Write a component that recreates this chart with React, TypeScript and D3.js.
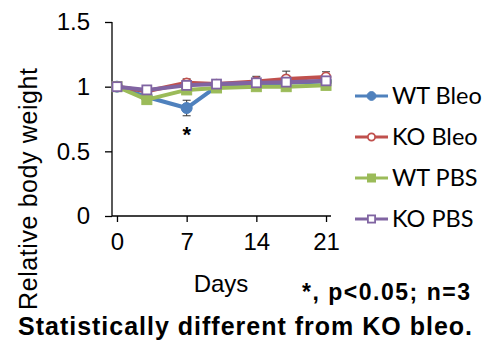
import React, { useEffect, useRef } from 'react';
import * as d3 from 'd3';

// Days measured
const days = [0, 3, 7, 10, 14, 17, 21];

// Relative body weight per group
const wtBleo = [1.0, 0.92, 0.835, 1.0, 1.02, 1.03, 1.04];
const koBleo = [1.0, 0.965, 1.03, 1.02, 1.04, 1.06, 1.075];
const wtPbs = [1.0, 0.9, 0.975, 0.99, 1.0, 1.0, 1.01];
const koPbs = [1.0, 0.975, 1.01, 1.02, 1.03, 1.035, 1.045];

// Error (SE) per group
const wtBleoErr = [0.02, 0.02, 0.06, 0.02, 0.02, 0.02, 0.02];
const koBleoErr = [0.02, 0.03, 0.03, 0.03, 0.04, 0.06, 0.04];
const wtPbsErr = [0.01, 0.01, 0.01, 0.01, 0.01, 0.01, 0.01];
const koPbsErr = [0.03, 0.03, 0.03, 0.02, 0.03, 0.03, 0.03];

const seriesNames = ['WT Bleo', 'KO Bleo', 'WT PBS', 'KO PBS'];
const seriesColors = ['#4F81BD', '#C0504D', '#9BBB59', '#8064A2'];
const seriesMarkers = ['circle', 'openCircle', 'square', 'openSquare'];

const xTicks = [0, 7, 14, 21];
const yTicks = [0, 0.5, 1, 1.5];

const App: React.FC = () => {
  const svgRef = useRef<SVGSVGElement>(null);

  useEffect(() => {
    if (!svgRef.current) return;
    const svg = d3.select(svgRef.current);
    svg.selectAll('*').remove();

    const values = [wtBleo, koBleo, wtPbs, koPbs];
    const errors = [wtBleoErr, koBleoErr, wtPbsErr, koPbsErr];

    const x = d3.scaleLinear().domain([-0.5, 21.5]).range([112, 331]);
    const y = d3.scaleLinear().domain([0, 1.5]).range([216, 22]);

    const font = "'Liberation Sans', Arial, sans-serif";

    // Axes
    const yAxis = svg
      .append('g')
      .attr('transform', `translate(${x(-0.5)},0)`)
      .call(d3.axisLeft(y).tickValues(yTicks).tickSize(7).tickFormat(d => d3.format('')(d as number)));
    const xAxis = svg
      .append('g')
      .attr('transform', `translate(0,${y(0)})`)
      .call(d3.axisBottom(x).tickValues(xTicks).tickSize(6).tickFormat(d => String(d)));

    [yAxis, xAxis].forEach(g => {
      g.select('.domain').attr('stroke', '#000').attr('stroke-width', 1.3);
      g.selectAll('.tick line').attr('stroke', '#000').attr('stroke-width', 1.3);
      g.selectAll('.tick text')
        .attr('fill', '#000')
        .attr('font-family', font)
        .attr('font-size', 24);
    });
    yAxis.select('.domain').attr('d', `M0,${y(1.5)}V${y(0)}`);
    xAxis.select('.domain').attr('d', `M${x(-0.5)},0H${x(21.5)}`);
    yAxis.selectAll('.tick text').attr('x', -22);
    xAxis.selectAll('.tick text').attr('y', 17);

    // Axis titles
    svg
      .append('text')
      .attr('transform', `translate(37,${189}) rotate(-90)`)
      .attr('text-anchor', 'middle')
      .attr('font-family', font)
      .attr('font-size', 25)
      .attr('textLength', 242)
      .text('Relative body weight');

    svg
      .append('text')
      .attr('x', 221)
      .attr('y', 292)
      .attr('text-anchor', 'middle')
      .attr('font-family', font)
      .attr('font-size', 24)
      .text('Days');

    // Series
    values.forEach((vals, si) => {
      const color = seriesColors[si];
      const pts = days.map((d, i) => ({ d, v: vals[i], e: errors[si][i] }));
      const g = svg.append('g');

      g.append('path')
        .datum(pts)
        .attr('fill', 'none')
        .attr('stroke', color)
        .attr('stroke-width', 4)
        .attr('stroke-linejoin', 'round')
        .attr(
          'd',
          d3
            .line<{ d: number; v: number }>()
            .x(p => x(p.d))
            .y(p => y(p.v))
        );

      // error bars
      const eb = g
        .selectAll('.err')
        .data(pts)
        .enter()
        .append('g')
        .attr('stroke', '#333')
        .attr('stroke-width', 1);
      eb.append('line')
        .attr('x1', p => x(p.d))
        .attr('x2', p => x(p.d))
        .attr('y1', p => y(p.v - p.e))
        .attr('y2', p => y(p.v + p.e));
      eb.append('line')
        .attr('x1', p => x(p.d) - 4)
        .attr('x2', p => x(p.d) + 4)
        .attr('y1', p => y(p.v + p.e))
        .attr('y2', p => y(p.v + p.e));
      eb.append('line')
        .attr('x1', p => x(p.d) - 4)
        .attr('x2', p => x(p.d) + 4)
        .attr('y1', p => y(p.v - p.e))
        .attr('y2', p => y(p.v - p.e));

      drawMarkers(g, pts.map(p => [x(p.d), y(p.v)]), seriesMarkers[si], color, 1);
    });

    // Significance asterisk
    svg
      .append('text')
      .attr('x', x(7))
      .attr('y', y(wtBleo[2] - wtBleoErr[2]) + 26)
      .attr('text-anchor', 'middle')
      .attr('font-family', font)
      .attr('font-size', 22)
      .attr('font-weight', 'bold')
      .text('*');

    // Legend
    const legend = svg.append('g').attr('transform', 'translate(355,96)');
    seriesNames.forEach((name, i) => {
      const item = legend.append('g').attr('transform', `translate(0,${i * 41})`);
      item
        .append('line')
        .attr('x1', 0)
        .attr('x2', 33)
        .attr('stroke', seriesColors[i])
        .attr('stroke-width', 3);
      drawMarkers(item, [[16.5, 0]], seriesMarkers[i], seriesColors[i], 0.8);
      item
        .append('text')
        .attr('x', 37)
        .attr('y', 0)
        .attr('dy', '0.36em')
        .attr('font-family', 'Lato, sans-serif')
        .attr('font-size', 23.5)
        .text(name);
    });

    // Notes
    svg
      .append('text')
      .attr('x', 470)
      .attr('y', 300)
      .attr('text-anchor', 'end')
      .attr('font-family', font)
      .attr('font-weight', 'bold')
      .attr('font-size', 23)
      .attr('textLength', 168)
      .text('*, p<0.05;  n=3');

    svg
      .append('text')
      .attr('x', 18)
      .attr('y', 335)
      .attr('font-family', font)
      .attr('font-weight', 'bold')
      .attr('font-size', 25)
      .attr('textLength', 454)
      .text('Statistically  different  from  KO  bleo.');
  }, []);

  return (
    <div style={{ position: 'absolute', left: 0, top: 0 }}>
      <svg ref={svgRef} width={484} height={345} style={{ display: 'block', background: '#fff' }}></svg>
    </div>
  );
};

function drawMarkers(
  g: d3.Selection<SVGGElement, unknown, null, undefined>,
  pts: number[][],
  kind: string,
  color: string,
  scale: number
) {
  if (kind === 'circle' || kind === 'openCircle') {
    const open = kind === 'openCircle';
    pts.forEach(([cx, cy]) => {
      g.append('circle')
        .attr('cx', cx)
        .attr('cy', cy)
        .attr('r', (open ? 4.5 : 5.5) * scale)
        .attr('fill', open ? '#fff' : color)
        .attr('stroke', color)
        .attr('stroke-width', open ? 1.8 : 1);
    });
  } else {
    const open = kind === 'openSquare';
    const s = (open ? 9 : 10) * scale;
    pts.forEach(([cx, cy]) => {
      g.append('rect')
        .attr('x', cx - s / 2)
        .attr('y', cy - s / 2)
        .attr('width', s)
        .attr('height', s)
        .attr('fill', open ? '#fff' : color)
        .attr('stroke', color)
        .attr('stroke-width', open ? 1.8 : 1);
    });
  }
}

export default App;
